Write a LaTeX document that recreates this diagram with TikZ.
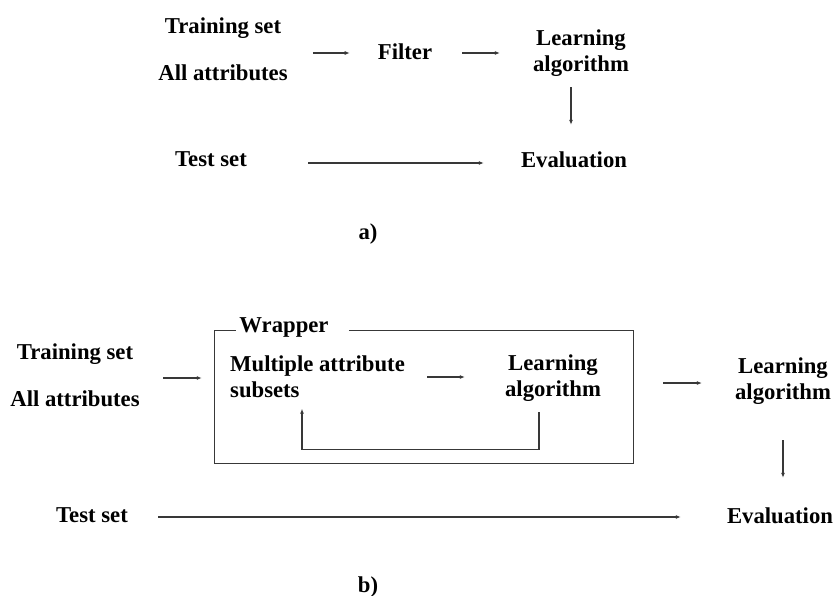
\documentclass[tikz,border=0pt]{standalone}
\usepackage{fontspec}
\setmainfont{Liberation Serif}
\usetikzlibrary{arrows.meta,calc}
\begin{document}
\begin{tikzpicture}[x=1pt,y=-1pt,
  mlbl/.style={font=\bfseries\fontsize{22.7}{26}\selectfont, inner sep=0pt, align=center},
  lbl/.style={mlbl, text height=16pt, text depth=5pt},
  arr/.style={draw=black!78, line width=1.1pt, -{Latex[length=5pt,width=4pt]}},
  ln/.style={draw=black!78, line width=1.1pt}]
\path[use as bounding box] (0,0) rectangle (834,596);

% ---------- a) filter approach ----------
\node[mlbl] (ain)  at (223,49)  {Training set\\[21pt]All attributes};
\node[lbl]  (filt) at (405,54)  {Filter};
\node[mlbl] (alg)  at (581,53)  {Learning\\algorithm};
\node[lbl]  (ats)  at (211,161) {Test set};
\node[lbl]  (aev)  at (574,162) {Evaluation};
\node[lbl]  (acap) at (368,234) {a)};

\draw[arr] ($(ain.east |- filt)+(25,-1)$) -- ($(filt.west)+(-28,-1)$);
\draw[arr] ($(filt.east)+(30,-1)$) -- ($(alg.west |- filt)+(-33,-1)$);
\draw[arr] ($(alg.south)+(-10,10.5)$) -- ($(aev.north -| alg.south)+(-10,-26.5)$);
\draw[arr] ($(ats.east |- aev)+(61,1)$) -- ($(aev.west)+(-37,1)$);

% ---------- b) wrapper approach ----------
\node[mlbl] (bin)   at (75,375)  {Training set\\[21pt]All attributes};
\node[minimum width=418pt, minimum height=132pt, inner sep=0pt] (wrap) at (424,397) {};
\node[lbl]  (wlbl)  at (284,327) {Wrapper};
\node[mlbl, align=left, anchor=west] (multi) at (230,377) {Multiple attribute\\subsets};
\node[mlbl] (ialg)  at (553,378) {Learning\\algorithm};
\node[mlbl] (ralg)  at (783,381) {Learning\\algorithm};
\node[lbl]  (bts)   at (92,517)  {Test set};
\node[lbl]  (bev)   at (780,518) {Evaluation};
\node[lbl]  (bcap)  at (368,587) {b)};

% wrapper frame, open behind its title
\draw[ln] ($(wlbl.east |- wrap.north)+(20,0)$) -- (wrap.north east) -- (wrap.south east)
  -- (wrap.south west) -- (wrap.north west) -- ($(wlbl.west |- wrap.north)+(-3,0)$);

\draw[arr] ($(bin.east)+(23.5,3)$) -- ($(wrap.west |- bin)+(-13,3)$);
\draw[arr] ($(multi.east)+(22,0)$) -- ($(ialg.west |- multi)+(-40,0)$);
\draw[arr] ($(ialg.south)+(-14,10.5)$) |- ($(multi.west |- wrap.south)+(72,-14)$)
  -- ($(multi.south west)+(72,10.5)$);
\draw[arr] ($(wrap.east |- ralg)+(30,2)$) -- ($(ralg.west)+(-33,2)$);
\draw[arr] ($(ralg.south)+(0,35.5)$) -- ($(bev.north -| ralg.south)+(0,-29.5)$);
\draw[arr] ($(bts.east)+(30,0)$) -- ($(bev.west |- bts)+(-46,0)$);
\end{tikzpicture}
\end{document}
